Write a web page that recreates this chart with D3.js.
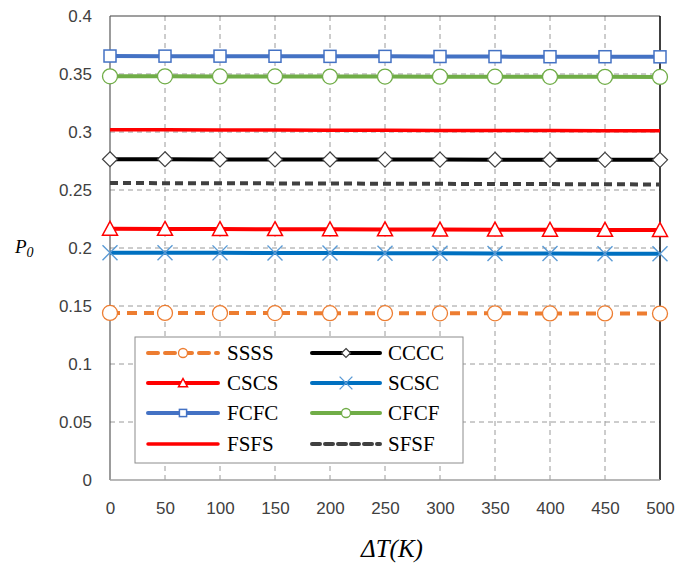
<!DOCTYPE html>
<html><head><meta charset="utf-8">
<script src="https://cdn.jsdelivr.net/npm/d3@7"></script>
<style>body{margin:0;background:#fff}svg{display:block}</style>
</head><body>
<svg id="c" width="679" height="563"></svg>
<script>
const deltaT = [0,50,100,150,200,250,300,350,400,450,500];
const yTicks = [0,0.05,0.1,0.15,0.2,0.25,0.3,0.35,0.4];
const seriesNames = ["SSSS","CCCC","CSCS","SCSC","FCFC","CFCF","FSFS","SFSF"];
const SSSS = [0.1440,0.1440,0.1439,0.1439,0.1438,0.1438,0.1437,0.1437,0.1436,0.1436,0.1435];
const CCCC = [0.2765,0.2765,0.2764,0.2763,0.2763,0.2762,0.2762,0.2761,0.2761,0.2760,0.2760];
const CSCS = [0.2165,0.2164,0.2163,0.2162,0.2161,0.2160,0.2159,0.2158,0.2157,0.2156,0.2155];
const SCSC = [0.1960,0.1959,0.1958,0.1957,0.1956,0.1955,0.1954,0.1953,0.1952,0.1951,0.1950];
const FCFC = [0.3655,0.3654,0.3654,0.3653,0.3652,0.3652,0.3651,0.3650,0.3649,0.3649,0.3648];
const CFCF = [0.3480,0.3480,0.3479,0.3479,0.3478,0.3478,0.3477,0.3477,0.3476,0.3476,0.3475];
const FSFS = [0.3020,0.3019,0.3018,0.3017,0.3016,0.3015,0.3014,0.3013,0.3012,0.3011,0.3010];
const SFSF = [0.2560,0.2559,0.2558,0.2557,0.2556,0.2554,0.2553,0.2552,0.2551,0.2549,0.2548];

const dataMap = {SSSS,CCCC,CSCS,SCSC,FCFC,CFCF,FSFS,SFSF};
const styles = {
  SSSS:{color:"#ED7D31",dash:"10,7",marker:"circle",mstroke:"#ED7D31",w:4},
  CCCC:{color:"#000000",dash:null,marker:"diamond",mstroke:"#404040",w:4},
  CSCS:{color:"#FF0000",dash:null,marker:"triangle",mstroke:"#FF0000",w:4},
  SCSC:{color:"#0070C0",dash:null,marker:"x",mstroke:"#5B9BD5",w:4},
  FCFC:{color:"#4472C4",dash:null,marker:"square",mstroke:"#4472C4",w:4},
  CFCF:{color:"#70AD47",dash:null,marker:"circle",mstroke:"#70AD47",w:4},
  FSFS:{color:"#FF0000",dash:null,marker:null,w:3.5},
  SFSF:{color:"#404040",dash:"8,5",marker:null,w:4}
};

const svg = d3.select("#c");
const L=110,R=660,T=16,B=480;
const x = d3.scaleLinear().domain([0,500]).range([L,R]);
const y = d3.scaleLinear().domain([0,0.4]).range([B,T]);

// gridlines
const g = svg.append("g");
g.selectAll(".hg").data(yTicks.filter(v=>v>0&&v<0.4)).enter().append("line")
  .attr("x1",L).attr("x2",R).attr("y1",d=>y(d)).attr("y2",d=>y(d))
  .attr("stroke","#9a9a9a").attr("stroke-width",1).attr("stroke-dasharray","5,4");
g.selectAll(".vg").data(deltaT.filter(v=>v>0&&v<500)).enter().append("line")
  .attr("y1",T).attr("y2",B).attr("x1",d=>x(d)).attr("x2",d=>x(d))
  .attr("stroke","#9a9a9a").attr("stroke-width",1).attr("stroke-dasharray","5,4");
// borders
svg.append("line").attr("x1",L).attr("x2",R).attr("y1",T).attr("y2",T).attr("stroke","#404040").attr("stroke-width",1.2);
svg.append("line").attr("x1",R).attr("x2",R).attr("y1",T).attr("y2",B).attr("stroke","#000").attr("stroke-width",1.5);
svg.append("line").attr("x1",L).attr("x2",L).attr("y1",T).attr("y2",B).attr("stroke","#595959").attr("stroke-width",1.2);
svg.append("line").attr("x1",L).attr("x2",R).attr("y1",B).attr("y2",B).attr("stroke","#a0a0a0").attr("stroke-width",1.5);

// axes labels via d3 axes
const yAxis = d3.axisLeft(y).tickValues(yTicks).tickFormat(d=>String(+d.toFixed(2))).tickSize(0).tickPadding(18);
const ya = svg.append("g").attr("transform",`translate(${L},0)`).call(yAxis);
ya.select(".domain").remove();
ya.selectAll("text").attr("font-family","Liberation Sans, Arial, sans-serif").attr("font-size",17).attr("fill","#404040");
const xAxis = d3.axisBottom(x).tickValues(deltaT).tickFormat(d=>d).tickSize(0).tickPadding(22);
const xa = svg.append("g").attr("transform",`translate(0,${B})`).call(xAxis);
xa.select(".domain").remove();
xa.selectAll("text").attr("font-family","Liberation Sans, Arial, sans-serif").attr("font-size",17).attr("fill","#404040");

function drawMarker(sel, type, cx, cy, stroke, s){
  if(type==="circle"){
    sel.append("circle").attr("cx",cx).attr("cy",cy).attr("r",7.5*s).attr("fill","#fff").attr("stroke",stroke).attr("stroke-width",1.3);
  } else if(type==="square"){
    const h=6*s;
    sel.append("rect").attr("x",cx-h).attr("y",cy-h).attr("width",2*h).attr("height",2*h).attr("fill","#fff").attr("stroke",stroke).attr("stroke-width",1.5);
  } else if(type==="diamond"){
    const h=7.5*s;
    sel.append("path").attr("d",`M${cx},${cy-h}L${cx+h},${cy}L${cx},${cy+h}L${cx-h},${cy}Z`).attr("fill","#fff").attr("stroke",stroke).attr("stroke-width",1.2);
  } else if(type==="triangle"){
    const h=7.5*s;
    sel.append("path").attr("d",`M${cx},${cy-h}L${cx+h},${cy+h*0.85}L${cx-h},${cy+h*0.85}Z`).attr("fill","#fff").attr("stroke",stroke).attr("stroke-width",1.5);
  } else if(type==="x"){
    const h=7.5*s;
    sel.append("path").attr("d",`M${cx-h},${cy-h}L${cx+h},${cy+h}M${cx-h},${cy+h}L${cx+h},${cy-h}`).attr("stroke",stroke).attr("stroke-width",1.4).attr("fill","none");
  }
}

const line = d3.line().x((d,i)=>x(deltaT[i])).y(d=>y(d));
const plot = svg.append("g");
seriesNames.forEach(name=>{
  const st = styles[name], vals = dataMap[name];
  const sg = plot.append("g");
  sg.append("path").datum(vals).attr("d",line).attr("fill","none")
    .attr("stroke",st.color).attr("stroke-width",st.w)
    .attr("stroke-dasharray",st.dash);
  if(st.marker){
    vals.forEach((v,i)=>drawMarker(sg, st.marker, x(deltaT[i]), y(v), st.mstroke, 1));
  }
});

// legend
const lg = svg.append("g");
lg.append("rect").attr("x",135).attr("y",337).attr("width",328).attr("height",126).attr("fill","#fff").attr("stroke","#8c8c8c").attr("stroke-width",1);
const cols=[{x1:148,x2:218,tx:227},{x1:312,x2:380,tx:388}];
const rows=[353,383,413,444];
seriesNames.forEach((name,i)=>{
  const c=cols[i%2], ry=rows[Math.floor(i/2)], st=styles[name];
  lg.append("line").attr("x1",c.x1).attr("x2",c.x2).attr("y1",ry).attr("y2",ry)
    .attr("stroke",st.color).attr("stroke-width",st.w).attr("stroke-dasharray",st.dash)
    .attr("stroke-linecap","round");
  if(st.marker) drawMarker(lg, st.marker, (c.x1+c.x2)/2, ry, st.mstroke, st.marker==="x"?0.85:0.6);
  lg.append("text").attr("x",c.tx).attr("y",ry+7).text(name)
    .attr("font-family","Liberation Serif, Times New Roman, serif").attr("font-size",21).attr("fill","#000");
});

// axis titles
svg.append("text").attr("x",392).attr("y",557).attr("text-anchor","middle")
  .attr("font-family","Liberation Serif, Times New Roman, serif").attr("font-style","italic").attr("font-size",25).attr("fill","#000").text("ΔT(K)");
const pt = svg.append("text").attr("x",15).attr("y",253)
  .attr("font-family","Liberation Serif, Times New Roman, serif").attr("font-style","italic").attr("font-size",19).attr("fill","#000");
pt.append("tspan").text("P");
pt.append("tspan").attr("dy",4).attr("font-size",14).text("0");
</script>
</body></html>
